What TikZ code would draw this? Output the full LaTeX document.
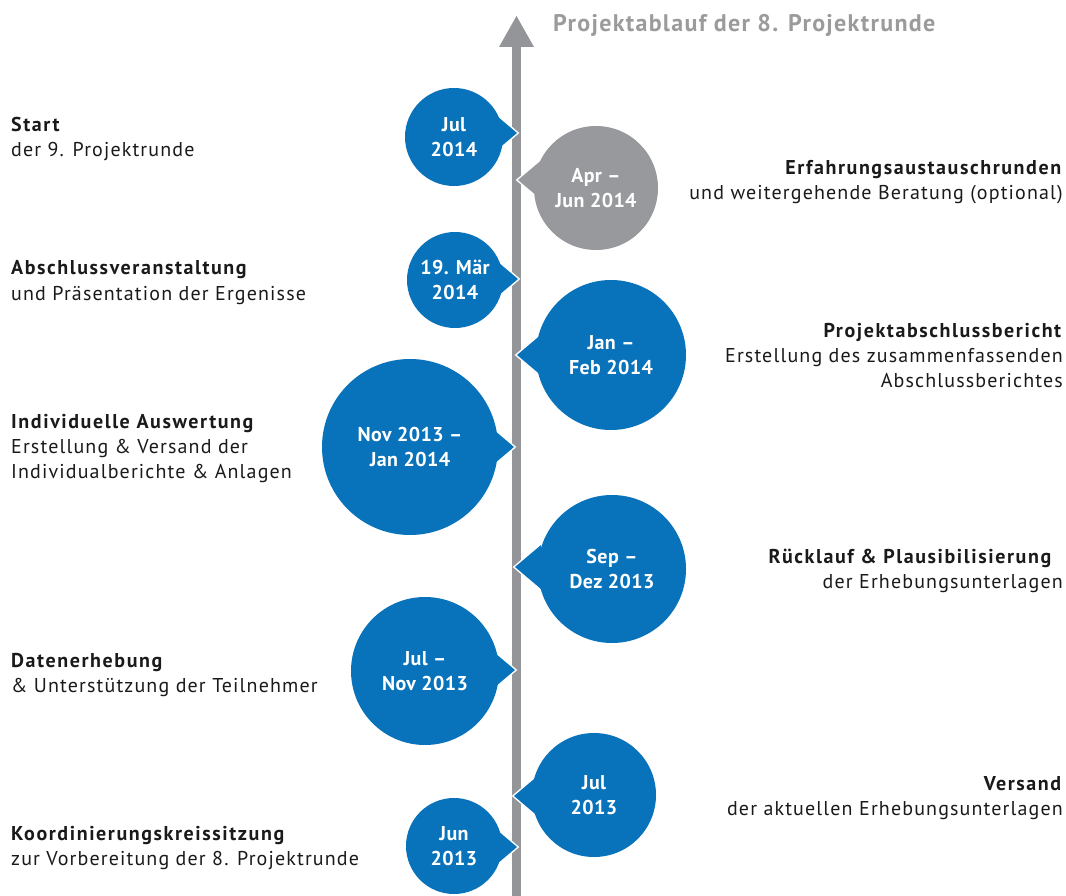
\documentclass[tikz,border=0pt]{standalone}
\usepackage{fontspec}
\setmainfont{PT Sans}[LetterSpace=5.7, BoldFeatures={LetterSpace=7.9}]
\newfontfamily\datefont{PT Sans}[LetterSpace=2]
\newfontfamily\titlefont{PT Sans Bold}[LetterSpace=5.5]
\usetikzlibrary{calc}
\definecolor{tlblue}{HTML}{0872BA}
\definecolor{tlgray}{HTML}{98999C}
\definecolor{axisgray}{HTML}{939598}
\definecolor{titlegray}{HTML}{9B9B9B}
\definecolor{txt}{HTML}{1A1A1A}
\tikzset{
  datebox/.style={circle, inner sep=0pt, align=center, text=white,
    font=\datefont\fontsize{20}{25}\selectfont\bfseries},
  % multi-line text nodes: base anchor sits on the last line
  lefttext/.style={anchor=base west, inner sep=0pt, align=left, text=txt,
    font=\fontsize{20}{25}\selectfont},
  righttext/.style={anchor=base east, inner sep=0pt, align=right, text=txt,
    font=\fontsize{20}{25}\selectfont},
}
% speech bubble: name, centre, radius, tip, side (-1 tip right of circle, +1 tip left), colour, text
\newcommand{\bubble}[7]{%
  \coordinate (#1-tip) at (#4);
  \draw[white, line width=3pt] (#2) circle[radius=#3];
  \draw[white, line width=3pt, line join=miter] (#1-tip) -- ++(#5*26,-22) -- ++(0,44) -- cycle;
  \fill[#6] (#2) circle[radius=#3];
  \fill[#6] (#1-tip) -- ++(#5*26,-22) -- ++(0,44) -- cycle;
  \node[datebox, minimum size=2*#3] (#1) at (#2) {#7};
}
\begin{document}
\begin{tikzpicture}[x=1pt, y=-1pt]
\useasboundingbox (0,0) rectangle (1066,896);

% time axis with arrow head
\coordinate (axis-bottom) at (516.5,896);
\coordinate (axis-top) at (516.5,47);
\fill[axisgray] ($(axis-bottom)+(-4.5,0)$) rectangle ($(axis-top)+(4.5,0)$);
\fill[axisgray] ($(axis-top)+(-17.5,0)$) -- (516.5,16) -- ($(axis-top)+(17.5,0)$) -- cycle;

\node[anchor=west, inner sep=0pt, text=titlegray,
  font=\titlefont\fontsize{24}{27}\selectfont] (title) at (553,25)
  {Projektablauf der 8. Projektrunde};

% milestones
\bubble{b1}{454,137}{49}{517,133}{-1}{tlblue}{Jul\\2014}
\bubble{b2}{596,188}{62}{518,180}{1}{tlgray}{Apr –\\Jun 2014}
\bubble{b3}{455,280}{48}{518,279}{-1}{tlblue}{19. Mär\\2014}
\bubble{b4}{611,355}{75}{517,355}{1}{tlblue}{Jan –\\Feb 2014}
\bubble{b5}{410,447}{88}{514,447}{-1}{tlblue}{Nov 2013 –\\Jan 2014}
\bubble{b6}{612,569}{74}{515,567}{1}{tlblue}{Sep –\\Dez 2013}
\bubble{b7}{425,671}{74}{515,670}{-1}{tlblue}{Jul –\\Nov 2013}
\bubble{b8}{594,795}{62}{514,796}{1}{tlblue}{Jul\\2013}
\bubble{b9}{454,846}{48}{517,847}{-1}{tlblue}{Jun\\2013}

% descriptions, left column
\node[lefttext] (t1) at (11,157) {\textbf{Start}\\der 9. Projektrunde};
\node[lefttext] (t3) at (11,300) {\textbf{Abschlussveranstaltung}\\und Präsentation der Ergenisse};
\node[lefttext] (t5) at (11,478) {\textbf{Individuelle Auswertung}\\Erstellung \& Versand der\\Individualberichte \& Anlagen};
\node[lefttext] (t7) at (11,692) {\textbf{Datenerhebung}\\\& Unterstützung der Teilnehmer};
\node[lefttext] (t9) at (11,865) {\textbf{Koordinierungskreissitzung}\\zur Vorbereitung der 8. Projektrunde};

% descriptions, right column
\node[righttext] (t2) at (1063,200) {\textbf{Erfahrungsaustauschrunden}\\und weitergehende Beratung (optional)};
\node[righttext] (t4) at (1063,387) {\textbf{Projektabschlussbericht}\\Erstellung des zusammenfassenden\hspace*{6pt}\\Abschlussberichtes};
\node[righttext] (t6) at (1063,588) {\textbf{Rücklauf \& Plausibilisierung}\hspace*{10pt}\\der Erhebungsunterlagen};
\node[righttext] (t8) at (1063,815) {\textbf{Versand}\\der aktuellen Erhebungsunterlagen};
\end{tikzpicture}
\end{document}
